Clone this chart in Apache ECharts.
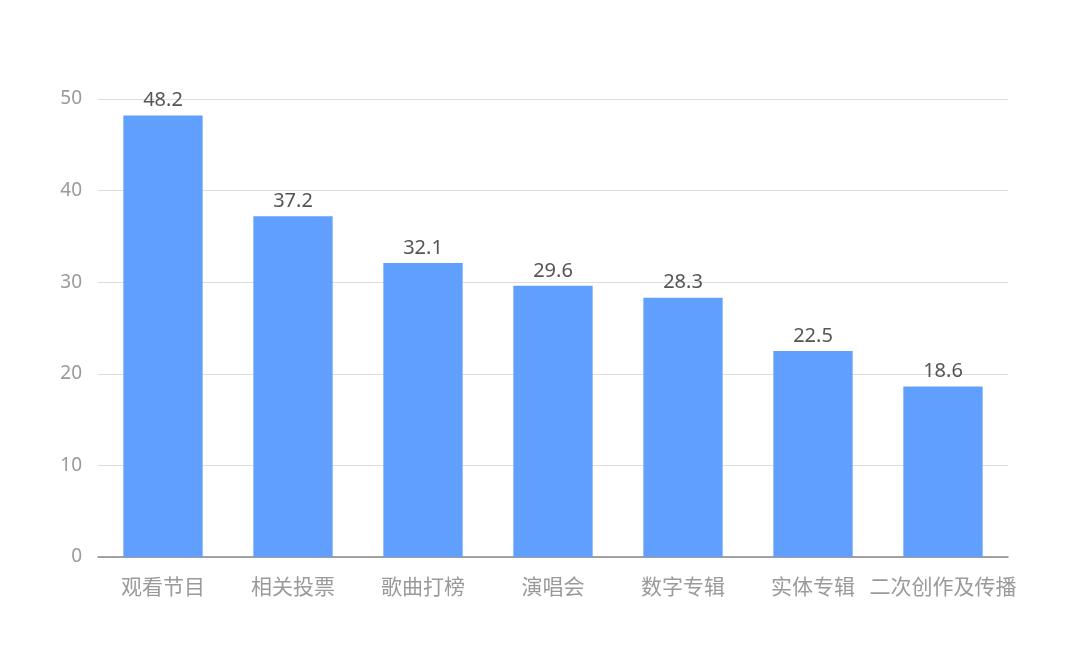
<!DOCTYPE html>
<html><head><meta charset="utf-8">
<script src="https://cdn.jsdelivr.net/npm/echarts@6/dist/echarts.min.js"></script>
<style>html,body{margin:0;padding:0;background:#fff;}#c{width:1080px;height:664px;}</style>
</head><body><div id="c"></div>
<script>
const categories = ['观看节目','相关投票','歌曲打榜','演唱会','数字专辑','实体专辑','二次创作及传播'];
const values = [48.2, 37.2, 32.1, 29.6, 28.3, 22.5, 18.6];
const yTicks = [0, 10, 20, 30, 40, 50];

const chart = echarts.init(document.getElementById('c'));
chart.setOption({
  animation: false,
  grid: { left: 98, right: 72, top: 99, bottom: 107 },
  xAxis: {
    type: 'category',
    data: categories,
    axisLine: { lineStyle: { color: '#888', width: 1.5 } },
    axisTick: { show: false },
    axisLabel: { interval: 0, color: '#9a9a9a', fontSize: 21, margin: 19, fontFamily: 'Noto Sans CJK SC' }
  },
  yAxis: {
    type: 'value',
    min: yTicks[0], max: yTicks[yTicks.length - 1], interval: 10,
    axisLine: { show: false },
    axisTick: { show: false },
    axisLabel: { color: '#9a9a9a', fontSize: 19, margin: 16, fontFamily: 'Noto Sans' },
    splitLine: { lineStyle: { color: '#ddd' } }
  },
  series: [{
    type: 'bar',
    data: values,
    barWidth: '61%',
    itemStyle: { color: '#619FFE' },
    label: { show: true, position: 'top', distance: 5, color: '#555', fontSize: 20, fontFamily: 'Noto Sans' }
  }]
});
</script></body></html>
